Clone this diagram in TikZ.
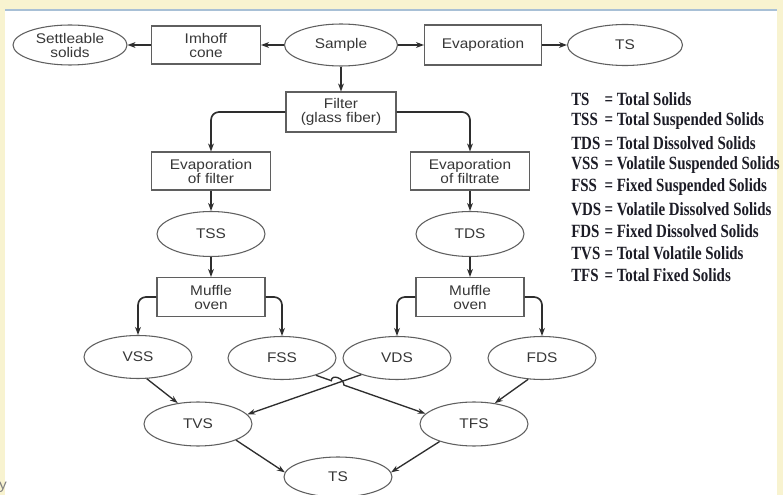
\documentclass[tikz,border=0pt]{standalone}
\usepackage{fontspec}
\setmainfont{Liberation Sans}[FakeStretch=1.1]
\newfontfamily\legendfont{Liberation Serif}[FakeStretch=0.8]
\usetikzlibrary{shapes.geometric,arrows.meta,calc,intersections}
\definecolor{cream}{RGB}{248,243,208}
\definecolor{frameblue}{RGB}{168,192,214}
\definecolor{ink}{RGB}{55,55,55}
\definecolor{edge}{RGB}{95,95,95}
\definecolor{legendink}{RGB}{28,28,38}
\begin{document}
\begin{tikzpicture}[x=0.75pt,y=-0.75pt,
 every node/.style={text=ink, font=\fontsize{10.5}{10.5}\selectfont, inner sep=0pt},
 ell/.style={ellipse, draw=edge, line width=0.8pt, minimum width=81pt, minimum height=32.25pt, align=center},
 box/.style={rectangle, draw=edge, line width=0.8pt, minimum width=81pt, minimum height=29pt, align=center},
 flow/.style={draw=black!82, line width=1.25pt, -{Stealth[length=6pt,width=4.4pt]}, rounded corners=6pt},
 diag/.style={draw=black!82, line width=1pt, -{Stealth[length=6pt,width=4.2pt]}},
 leg/.style={anchor=west, text=legendink, font=\legendfont\bfseries\fontsize{14}{14}\selectfont}
]
\useasboundingbox (0,0) rectangle (783,495);
\fill[cream] (0,0) rectangle (783,495);
\fill[white] (5,10) rectangle (777,495);
\draw[frameblue, line width=1.2pt] (5,10) -- (777,10);

% top row
\node[ell, minimum width=85.5pt, minimum height=30pt] (settle) at (70,45) {Settleable\\solids};
\node[box, minimum width=81.75pt, minimum height=28.5pt] (imhoff) at (206,45) {Imhoff\\cone};
\node[ell, minimum width=84.75pt, minimum height=31.5pt] (sample) at (341,45) {Sample};
\node[box, minimum width=87.75pt, minimum height=30pt] (evap) at (483,45) {Evaporation};
\node[ell, minimum width=86.25pt, minimum height=30.75pt] (ts1) at (625,45) {TS};

\node[box, minimum width=82.5pt, minimum height=30pt] (filter) at (341,112) {Filter\\(glass fiber)};
\node[box, minimum width=89.25pt, minimum height=28.5pt] (evf) at (211,171) {Evaporation\\of filter};
\node[box, minimum width=89.25pt, minimum height=28.5pt] (evft) at (470,171) {Evaporation\\of filtrate};
\node[ell, minimum height=33.75pt] (tss) at (211,234) {TSS};
\node[ell, minimum height=33.75pt] (tds) at (470,234) {TDS};
\node[box, minimum height=29.25pt] (muf1) at (211,297) {Muffle\\oven};
\node[box, minimum height=29.25pt] (muf2) at (470,297) {Muffle\\oven};
\node[ell] (vss) at (138,357) {VSS};
\node[ell] (fss) at (282,358) {FSS};
\node[ell] (vds) at (397,358) {VDS};
\node[ell] (fds) at (542,358) {FDS};
\node[ell, minimum height=33pt] (tvs) at (198,424) {TVS};
\node[ell, minimum height=33pt] (tfs) at (474,424) {TFS};
\node[ell, minimum height=30pt] (ts2) at (338,477) {TS};

% connectors
\draw[flow] (sample) -- (imhoff);
\draw[flow] (imhoff) -- (settle);
\draw[flow] (sample) -- (evap);
\draw[flow] (evap) -- (ts1);
\draw[flow] (sample) -- (filter);
\draw[flow] (filter.west) -| (evf.north);
\draw[flow] (filter.east) -| (evft.north);
\draw[flow] (evf) -- (tss);
\draw[flow] (tss) -- (muf1);
\draw[flow] (evft) -- (tds);
\draw[flow] (tds) -- (muf2);
\draw[flow] (muf1.west) -| (vss.north);
\draw[flow] (muf1.east) -| (fss.north);
\draw[flow] (muf2.west) -| (vds.north);
\draw[flow] (muf2.east) -| (fds.north);

\draw[diag] (vss.-68) -- (tvs.134);
\path[name path=pa] (vds.205) -- (tvs.11);
\draw[diag] (vds.205) -- (tvs.11);
\path[name path=pb] (fss.-27) -- (tfs.168);
\path[name intersections={of=pa and pb, by=X}];
\draw[diag] (fss.-27) -- ($(X)!5pt!(fss.-27)$) .. controls +(0,-7) and +(0,-7) .. ($(X)!5pt!(tfs.168)$) -- (tfs.168);
\draw[diag] (fds.237) -- (tfs.45);
\draw[diag] (tvs.-23) -- (ts2.175);
\draw[diag] (tfs.207) -- (ts2.5);

% legend
\node[leg] (l1) at (571,99)  {\makebox[25pt][l]{TS}= Total Solids};
\node[leg] (l2) at (571,121) {\makebox[25pt][l]{TSS}= Total Suspended Solids};
\node[leg] (l3) at (571,143) {\makebox[25pt][l]{TDS}= Total Dissolved  Solids};
\node[leg] (l4) at (571,165) {\makebox[25pt][l]{VSS}= Volatile Suspended Solids};
\node[leg] (l5) at (571,187) {\makebox[25pt][l]{FSS}= Fixed Suspended Solids};
\node[leg] (l6) at (571,209) {\makebox[25pt][l]{VDS}= Volatile Dissolved Solids};
\node[leg] (l7) at (571,231) {\makebox[25pt][l]{FDS}= Fixed Dissolved Solids};
\node[leg] (l8) at (571,253) {\makebox[25pt][l]{TVS}= Total Volatile Solids};
\node[leg] (l9) at (571,275) {\makebox[25pt][l]{TFS}= Total Fixed Solids};

\node[text=gray] (ystray) at (3,487) {y};
\end{tikzpicture}
\end{document}
